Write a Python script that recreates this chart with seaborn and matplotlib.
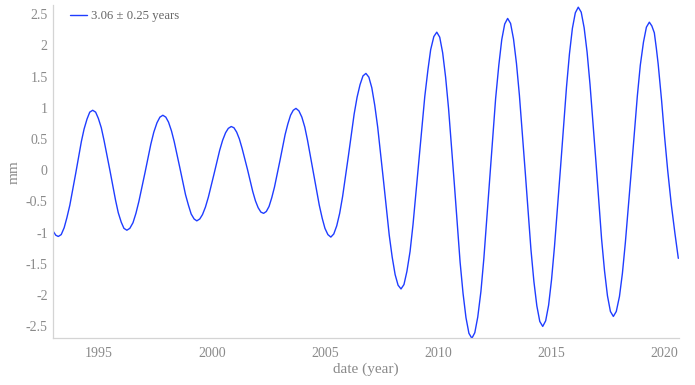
import matplotlib
matplotlib.use("Agg")
import matplotlib.pyplot as plt
import seaborn as sns
import pandas as pd

# ---- data (one row per half cycle) ----
years = [
    1993.00, 1993.11,
    1993.22, 1993.35, 1993.48, 1993.60, 1993.73, 1993.99, 1994.24, 1994.36, 1994.49, 1994.61,
    1994.74, 1994.87, 1994.99, 1995.12, 1995.24, 1995.50, 1995.75, 1995.87, 1996.00, 1996.12,
    1996.25, 1996.38, 1996.52, 1996.65, 1996.78, 1997.05, 1997.31, 1997.44, 1997.58, 1997.71,
    1997.84, 1997.97, 1998.09, 1998.22, 1998.34, 1998.59, 1998.84, 1998.97, 1999.09, 1999.22,
    1999.34, 1999.47, 1999.59, 1999.72, 1999.85, 2000.10, 2000.35, 2000.48, 2000.61, 2000.73,
    2000.86, 2000.98, 2001.10, 2001.22, 2001.34, 2001.58, 2001.81, 2001.93, 2002.05, 2002.17,
    2002.29, 2002.41, 2002.53, 2002.65, 2002.77, 2003.01, 2003.24, 2003.36, 2003.48, 2003.60,
    2003.72, 2003.85, 2003.98, 2004.11, 2004.23, 2004.49, 2004.75, 2004.88, 2005.00, 2005.13,
    2005.26, 2005.39, 2005.52, 2005.65, 2005.78, 2006.04, 2006.29, 2006.42, 2006.55, 2006.68,
    2006.81, 2006.94, 2007.07, 2007.20, 2007.33, 2007.59, 2007.84, 2007.97, 2008.10, 2008.23,
    2008.36, 2008.49, 2008.62, 2008.76, 2008.89, 2009.15, 2009.41, 2009.55, 2009.67, 2009.81,
    2009.94, 2010.07, 2010.20, 2010.33, 2010.46, 2010.72, 2010.97, 2011.10, 2011.23, 2011.36,
    2011.49, 2011.62, 2011.75, 2011.89, 2012.02, 2012.28, 2012.54, 2012.68, 2012.81, 2012.94,
    2013.07, 2013.20, 2013.33, 2013.46, 2013.59, 2013.85, 2014.10, 2014.23, 2014.36, 2014.49,
    2014.62, 2014.75, 2014.88, 2015.01, 2015.14, 2015.41, 2015.67, 2015.80, 2015.93, 2016.06,
    2016.19, 2016.32, 2016.45, 2016.58, 2016.71, 2016.97, 2017.22, 2017.35, 2017.48, 2017.61,
    2017.74, 2017.87, 2018.01, 2018.14, 2018.27, 2018.54, 2018.80, 2018.93, 2019.07, 2019.20,
    2019.33, 2019.44, 2019.55, 2019.64, 2019.72, 2019.87, 2020.00, 2020.14, 2020.30, 2020.46, 2020.61,
]
signal_mm = [
    -0.98, -1.04,
    -1.06, -1.03, -0.92, -0.76, -0.56, -0.05, 0.46, 0.66, 0.82, 0.93,
    0.96, 0.93, 0.83, 0.68, 0.48, 0.00, -0.48, -0.68, -0.83, -0.93,
    -0.96, -0.93, -0.84, -0.69, -0.50, -0.04, 0.42, 0.61, 0.76, 0.85,
    0.88, 0.85, 0.77, 0.63, 0.46, 0.04, -0.39, -0.56, -0.70, -0.78,
    -0.81, -0.78, -0.71, -0.59, -0.43, -0.06, 0.32, 0.48, 0.60, 0.67,
    0.70, 0.68, 0.61, 0.50, 0.35, 0.01, -0.34, -0.49, -0.60, -0.67,
    -0.69, -0.66, -0.58, -0.44, -0.27, 0.15, 0.57, 0.74, 0.88, 0.96,
    0.99, 0.95, 0.85, 0.69, 0.48, -0.04, -0.56, -0.77, -0.93, -1.03,
    -1.07, -1.02, -0.89, -0.69, -0.42, 0.24, 0.90, 1.17, 1.37, 1.51,
    1.55, 1.49, 1.32, 1.04, 0.69, -0.18, -1.04, -1.39, -1.67, -1.84,
    -1.90, -1.83, -1.62, -1.30, -0.87, 0.16, 1.18, 1.61, 1.93, 2.14,
    2.21, 2.13, 1.88, 1.49, 0.99, -0.24, -1.47, -1.97, -2.36, -2.61,
    -2.69, -2.60, -2.35, -1.94, -1.41, -0.13, 1.15, 1.68, 2.09, 2.34,
    2.43, 2.35, 2.10, 1.71, 1.20, -0.04, -1.27, -1.78, -2.17, -2.42,
    -2.50, -2.41, -2.16, -1.75, -1.22, 0.06, 1.33, 1.86, 2.27, 2.52,
    2.61, 2.53, 2.28, 1.89, 1.37, 0.14, -1.10, -1.61, -2.01, -2.26,
    -2.34, -2.26, -2.02, -1.65, -1.16, 0.02, 1.19, 1.68, 2.05, 2.29,
    2.37, 2.31, 2.20, 1.95, 1.70, 1.12, 0.55, 0.00, -0.55, -1.01, -1.41,
]
series_label = "3.06 \u00b1 0.25 years"
x_ticks = [1995, 2000, 2005, 2010, 2015, 2020]
y_ticks = [2.5, 2, 1.5, 1, 0.5, 0, -0.5, -1, -1.5, -2, -2.5]
y_tick_labels = ["2.5", "2", "1.5", "1", "0.5", "0", "-0.5", "-1", "-1.5", "-2", "-2.5"]

sns.set_theme(style="white")
plt.rcParams["font.family"] = ["Liberation Serif", "DejaVu Serif"]

TEXT = "#8a8a8a"
AXIS = "#d4d4d4"

fig = plt.figure(figsize=(6.95, 3.85), dpi=100)
ax = fig.add_axes([53.3 / 695, 46.7 / 385, 625.7 / 695, 333.3 / 385])

df = pd.DataFrame({"date": years, "mm": signal_mm})
sns.lineplot(data=df, x="date", y="mm", ax=ax, color="#1f3dff",
             linewidth=1.0, label=series_label, estimator=None)

ax.set_xlim(1993.0, 2020.64)
ax.set_ylim(-2.69, 2.645)
ax.set_xticks(x_ticks)
ax.set_xticklabels([str(v) for v in x_ticks])
ax.set_yticks(y_ticks)
ax.set_yticklabels(y_tick_labels)

for s in ["top", "right"]:
    ax.spines[s].set_visible(False)
for s in ["left", "bottom"]:
    ax.spines[s].set_color(AXIS)
    ax.spines[s].set_linewidth(0.9)

ax.tick_params(axis="both", direction="in", length=4, width=0.8, color=AXIS,
               labelcolor=TEXT, labelsize=10, pad=4)
ax.tick_params(axis="x", pad=6)

ax.set_xlabel("date (year)", color=TEXT, fontsize=11)
ax.set_ylabel("mm", color=TEXT, fontsize=11)
ax.xaxis.set_label_coords(0.5, -0.072)
ax.yaxis.set_label_coords(-0.052, 0.5)

leg = ax.legend(loc="upper left", bbox_to_anchor=(0.027, 0.985), frameon=False,
                fontsize=9.2, handlelength=1.3, handletextpad=0.3,
                borderpad=0, borderaxespad=0)
for t in leg.get_texts():
    t.set_color("#666666")

fig.savefig("out.png", dpi=100)
